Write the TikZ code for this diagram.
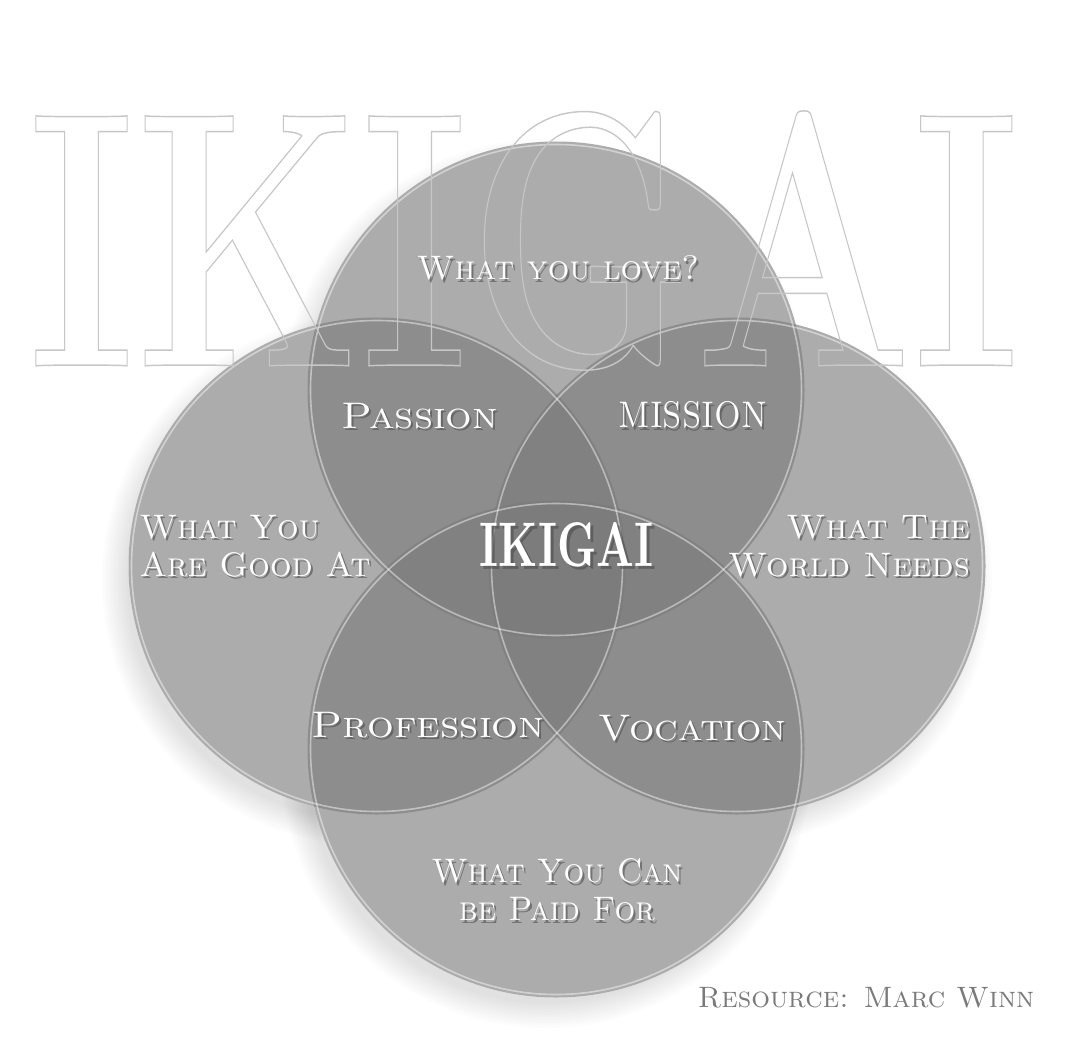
\documentclass[tikz,border=0pt]{standalone}
\usepackage{tikz}
\usetikzlibrary{positioning,calc}
\usepackage{graphicx}

% label with a soft drop shadow behind it
\newcommand{\ikilabel}[4][center]{%
  \node[lblshadow, align=#1] at ($(#3)+(2,2.5)$) {#4};
  \node[lbl, align=#1] (#2) at (#3) {#4};}
% stretched words
\newcommand{\wideword}[2][1.13]{\scalebox{#1}[1]{#2}}
\newcommand{\innerword}[2][1.13]{{\fontsize{37}{40}\selectfont\scalebox{#1}[1]{#2}}}

\begin{document}
\begin{tikzpicture}[
    x=1pt, y=-1pt,
    ring/.style={circle, inner sep=0pt, minimum size=497pt, fill=black!52, fill opacity=0.62},
    rim/.style={draw=white, line width=1.6pt, draw opacity=0.45},
    lbl/.style={inner sep=0pt, text=white, font=\fontsize{34}{38}\selectfont\scshape},
    lblshadow/.style={lbl, text=black!70, text opacity=0.6},
    bigword/.style={inner sep=0pt, text=black!22, font=\fontsize{300}{300}\selectfont\bfseries}
]
\useasboundingbox (0,0) rectangle (1086,1051);
\fill[white] (0,0) rectangle (1086,1051);

% soft shadows under the circles
\foreach \cx/\cy in {556/390, 377/566, 737/566, 556/749}
  \foreach \i in {1,...,10}
    \fill[black, opacity=0.013] (\cx-10,\cy+14) circle[radius=238+2.7*\i];
\foreach \cx/\cy in {556/390, 377/566, 737/566, 556/749}
  \fill[white] (\cx,\cy) circle[radius=248.5];

\node[ring] (love) at (556,390) {};
\node[ring] (good) at (377,566) {};
\node[ring] (world) at (737,566) {};
\node[ring] (paid) at (556,749) {};

\foreach \c in {love, good, world, paid}
  \draw[rim] (\c.center) circle[radius=245.5];

% outlined title in the back
\node[bigword] (title) at (524,240.5) {\resizebox{992pt}{255pt}{\special{pdf:literal direct 1 Tr 1.2 w}IKIGAI}};

\ikilabel{lovetext}{558,268}{What you love?}
\ikilabel{passion}{420,416}{\innerword{Passion}}
\ikilabel{mission}{693,415}{\innerword[0.86]{MISSION}}
\ikilabel[left]{goodtext}{255,546}{What You\\Are Good At}
\ikilabel[right]{worldtext}{849,546}{\wideword[1.04]{What The}\\\wideword[1.04]{World Needs}}
\ikilabel{profession}{428,725}{\innerword[1.14]{Profession}}
\ikilabel{vocation}{692,728}{\innerword[1.08]{Vocation}}
\ikilabel{paidtext}{557,890}{\wideword[0.96]{What You Can}\\\wideword[0.96]{be Paid For}}

\node[lblshadow, font=\bfseries] at (569.5,548) {\resizebox{173pt}{44pt}{IKIGAI}};
\node[lbl, font=\bfseries] (ikigai) at (566.5,545) {\resizebox{173pt}{44pt}{IKIGAI}};

\node[lbl, text=black!52, font=\fontsize{29.5}{32}\selectfont\scshape] (source) at (866,998) {Resource: Marc Winn};

\end{tikzpicture}
\end{document}
